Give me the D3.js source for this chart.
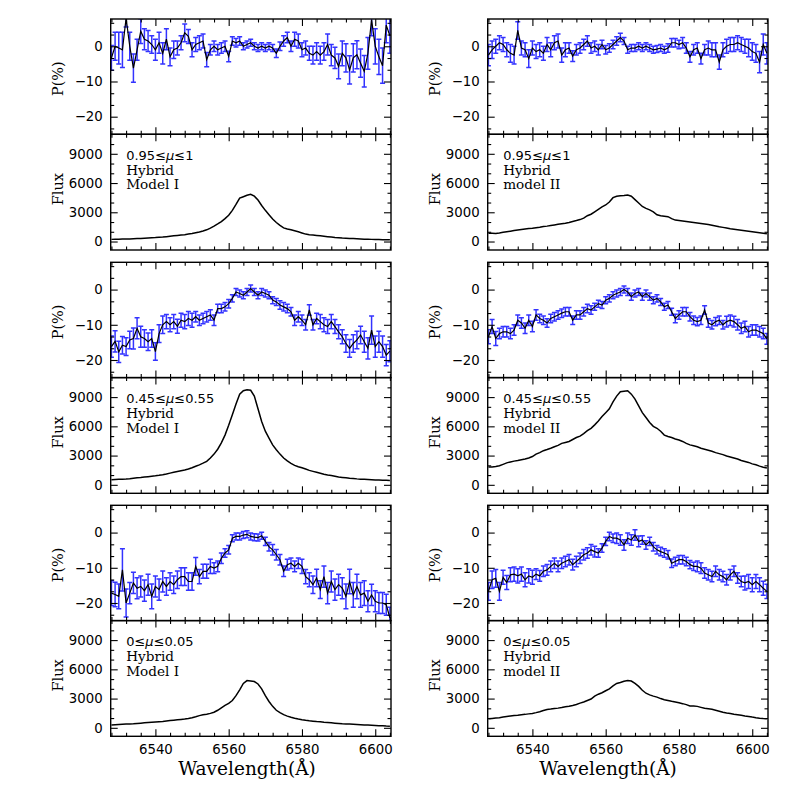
<!DOCTYPE html>
<html>
<head>
<meta charset="utf-8">
<script src="https://cdn.jsdelivr.net/npm/d3@7"></script>
<style>
body { margin: 0; background: #fff; }
svg { display: block; }
</style>
</head>
<body>
<svg id="fig" width="797" height="797"></svg>
<script>
// wavelength grid (A), one sample per Angstrom
var wave = [6528,6529,6530,6531,6532,6533,6534,6535,6536,6537,
  6538,6539,6540,6541,6542,6543,6544,6545,6546,6547,
  6548,6549,6550,6551,6552,6553,6554,6555,6556,6557,
  6558,6559,6560,6561,6562,6563,6564,6565,6566,6567,
  6568,6569,6570,6571,6572,6573,6574,6575,6576,6577,
  6578,6579,6580,6581,6582,6583,6584,6585,6586,6587,
  6588,6589,6590,6591,6592,6593,6594,6595,6596,6597,
  6598,6599,6600,6601,6602,6603,6604];

// polarisation P(%) and its errors
var polHiI = [-3.3,0,-0.5,-1,8,0,-6.2,-1,4.3,2,
  1.5,0.5,-1,1,-2,2,-3,-1,-0.5,1,
  3.8,2.8,-1,0.5,1,1.5,-3.8,-1,0,-1,
  -0.5,0,-2.9,1.5,1,1.5,0,0.5,1,0,
  -0.5,0,-0.5,0,-0.5,-2,0,1.5,2.5,0,
  2,1.5,-1,-0.5,-2,-2.5,-1.5,-2.5,-1.5,0.5,
  -2.5,-3.3,-5.7,-2,-3.3,-6.7,-3.3,-2.4,-4.8,-7.1,
  -2,7.5,0,-3,-5.5,6,3];
var errHiI = [3.5,4,4.5,5,2.5,4,4,3,3.5,3,
  3,2.5,3,3,3,3,2.5,2.5,2,2,
  2.5,2,2,2,2,2,2,1.5,1.5,1.5,
  1.5,1.5,1.5,1.2,1.2,1.2,1,1,1,1,
  1,1,1,1,1,1.2,1.2,1.5,1.5,1.5,
  2,2,2,2,2,2.5,2.5,2.5,2.5,3,
  3,3,3.5,3.5,4,4,4,4,4,4.5,
  4.5,4.5,5,5,5,5,5];
var polHiII = [-2.5,-1,0,1,0.5,-1,-2,-2.5,4.5,-0.5,
  -1,-3.5,-0.5,-1.5,-1,-2,0.5,-1,1,1.5,
  -2.5,-1,-0.5,-2.8,-1,-0.5,0.5,1.5,-0.5,0,
  -1,0.5,-1,-0.5,0.5,1.5,2.5,1.5,-1,-0.5,
  -0.5,0,-0.5,0,-0.5,-1,-0.8,-0.5,-1,-0.5,
  1,1,0.5,1,-0.5,-3,-1,-0.5,-3.5,-1,
  -0.5,-1,-1,-4.5,-1,0,0.5,0.5,1,0.5,
  0,-0.5,-1.5,-2,-4.5,0.5,-2];
var errHiII = [3,2.5,2,2,2,2,2.5,2.5,2.5,2,
  2,2.5,2,2,2,2,2,2,2,2,
  2,2,1.5,1.5,1.5,1.5,1.5,1.5,1.5,1.5,
  1.5,1.2,1.2,1.2,1.2,1.2,1.2,1,1,1,
  1,1,1,1,1,1,1,1,1,1.2,
  1.2,1.2,1.2,1.5,1.5,1.5,1.5,1.5,1.5,1.5,
  2,2,2,2,2,2,2,2,2,2,
  2,2.5,2.5,2.5,3,3,3];
var polMidI = [-16.2,-14.7,-17.7,-15.8,-16.2,-14.3,-13.9,-11,-13.4,-13.9,
  -14.8,-13.9,-17.6,-12.5,-10,-9.1,-10,-9.1,-10.4,-8.7,
  -9.1,-8.2,-8.7,-7.7,-8.7,-8.2,-7.7,-7.2,-8.7,-5.4,
  -5.4,-4.9,-4,-2.5,-0.7,-1.1,-1.6,-0.7,0.3,-0.7,
  -1.6,-0.7,-1.1,-1.6,-3,-3.5,-4.4,-4.9,-5.4,-6.3,
  -8.7,-7.7,-8.7,-10,-5.8,-10,-8.2,-9.1,-10,-10.5,
  -9.1,-10.5,-12,-13.4,-15.3,-16.7,-15.3,-14.3,-12.9,-14.8,
  -16.7,-11.5,-16.2,-14.8,-16.2,-18.6,-17.5];
var errMidI = [3,3,3,2.5,2.5,2.5,3,3,3,2.5,
  2.5,2.5,2.5,2.5,2.5,2,2,2,2,2,
  2,2,2,1.5,1.5,1.5,1.5,1.5,1.5,1.2,
  1.2,1.2,1.2,1,1,1,1,1,1,1,
  1,1,1,1,1,1,1.2,1.2,1.2,1.2,
  1.5,1.5,1.5,1.5,1.5,1.5,1.5,2,2,2,
  2,2,2,2,2.5,2.5,2.5,2.5,2.5,3,
  3,4,3,3,3,3,3];
var polMidII = [-13.4,-10.5,-13.9,-12.5,-12,-12,-12.5,-11.5,-8.7,-9.5,
  -11,-8.7,-10.5,-7.2,-8.2,-8.7,-9.5,-8.2,-7.7,-7.2,
  -6.7,-6.3,-6.3,-8.7,-7.2,-7.2,-6.3,-5.4,-5.8,-4.9,
  -4,-4.4,-3,-2.5,-1.6,-1.1,-0.7,0,-0.7,-2,
  -1.1,-0.7,-2,-1.1,-2,-3,-2.5,-3.5,-4.9,-4.4,
  -6.3,-8.2,-7.2,-6.3,-6.3,-7.7,-8.7,-9.1,-8.7,-5.8,
  -9.5,-10,-9.1,-8.7,-10,-9.1,-8.7,-9.1,-10,-11,
  -10.5,-12,-11.5,-11.5,-12,-12.5,-14];
var errMidII = [2,2,2,1.5,1.5,1.5,1.5,1.5,1.5,1.5,
  1.5,1.5,1.5,1.5,1.2,1.2,1.2,1.2,1.2,1.2,
  1.2,1.2,1.2,1.2,1.2,1.2,1.2,1.2,1.2,1,
  1,1,1,1,1,1,1,1,1,1,
  1,1,1,1,1,1,1,1,1,1,
  1,1.2,1.2,1.2,1.2,1.2,1.2,1.2,1.2,1.2,
  1.2,1.2,1.2,1.2,1.2,1.5,1.5,1.5,1.5,1.5,
  1.5,1.5,1.5,1.5,1.5,1.5,1.5];
var polLoI = [-17.2,-17.6,-18.1,-10.6,-20,-17.2,-14.3,-15.8,-15.3,-16.5,
  -14.8,-18.1,-15.3,-16.2,-13.9,-15.3,-13.9,-14.8,-13.4,-12.5,
  -12.5,-13.9,-13.9,-9.6,-12.5,-11,-11,-9.6,-10.1,-9.6,
  -7.3,-5.8,-4.9,-1.6,-1.1,-1.1,-0.7,-0.5,-1.1,-1.3,
  -1.4,-0.9,-2.5,-4,-4.9,-6.3,-7.7,-11,-9.1,-8.7,
  -9.6,-8.7,-9.6,-12.5,-13.4,-14.8,-12.9,-16.2,-12.5,-17.2,
  -13.9,-16.2,-14.8,-15.8,-18.1,-13.9,-17.7,-15.3,-17.7,-17.2,
  -19.5,-17.7,-19.5,-20,-20,-20.5,-24.2];
var errLoI = [3.5,3.5,3.5,6,4,3,3,3,3,3,
  3,3.5,3,3,3,2.5,2.5,2.5,2.5,2.5,
  2.5,2.5,2.5,2.5,2,2,2,2,1.5,1.5,
  1.5,1.2,1.2,1,1,1,1,1,1,1,
  1,1,1.2,1.2,1.5,1.5,1.5,1.5,1.5,1.5,
  1.5,1.5,2,2,2,2.5,2.5,2.5,3,3,
  3,3,3,3,3.5,3.5,3.5,3.5,3.5,3.5,
  3,3,3,3,3,3,3];
var polLoII = [-16.7,-13.4,-13,-16.7,-12.7,-14.2,-12,-11.8,-12.3,-11.8,
  -13.4,-12.3,-12.7,-11.8,-12.3,-11,-10.6,-9.6,-8.7,-9.6,
  -8.7,-8.2,-7.7,-9.1,-8.2,-7.3,-6.3,-5.8,-4.9,-5.4,
  -5.8,-4.4,-2.5,-1.1,-1.6,-1.6,-2.1,-3.5,-1.6,-2.1,
  -0.7,-2.5,-2.1,-3.5,-2.5,-4,-4.9,-5.4,-5.8,-6.3,
  -8.7,-8.2,-7.7,-7.7,-8.2,-9.1,-9.6,-9.6,-10.1,-11.5,
  -12,-12.5,-11,-12,-12.5,-13.4,-12,-11,-12.9,-13.9,
  -14.3,-13.9,-14.8,-13.9,-14.8,-15.8,-16.7];
var errLoII = [2.5,2.5,2.5,2.5,2,2,2,2,2,2,
  2,2,2,1.5,1.5,1.5,1.5,1.5,1.5,1.5,
  1.5,1.5,1.5,1.5,1.5,1.5,1.5,1.5,1.5,1.5,
  1.2,1.2,1.2,1.2,1.2,1.5,1.5,1.5,1.5,1.5,
  1.5,1.5,1.2,1.2,1.2,1.2,1.2,1.2,1.2,1.2,
  1.2,1.2,1.2,1.2,1.2,1.2,1.2,1.5,1.5,1.5,
  1.5,1.5,1.5,1.5,1.5,1.5,1.5,1.5,1.5,1.5,
  2,2,2,2,2,2,2];

// line flux
var fluxHiI = [220,230,240,250,260,270,285,300,320,340,
  360,380,400,430,460,500,540,580,620,660,
  700,760,820,900,980,1080,1200,1380,1580,1800,
  2050,2350,2700,3200,3800,4450,4600,4750,4850,4650,
  4250,3700,3200,2750,2300,1950,1650,1400,1280,1200,
  1100,1000,880,760,700,660,620,580,540,500,
  460,420,390,360,340,320,300,280,260,245,
  230,220,210,200,190,180,170];
var fluxHiII = [850,850,830,880,940,1000,1060,1120,1180,1230,
  1280,1330,1370,1420,1470,1530,1580,1640,1700,1760,
  1820,1880,1960,2060,2150,2250,2400,2650,2800,3050,
  3300,3550,3750,4050,4500,4650,4700,4720,4760,4650,
  4300,3950,3600,3400,3250,3050,2750,2650,2600,2550,
  2350,2200,2150,2100,2050,2000,1950,1900,1850,1800,
  1750,1680,1600,1520,1450,1380,1300,1250,1200,1150,
  1100,1050,1000,950,900,850,800];
var fluxMidI = [520,540,560,580,600,630,680,730,760,800,
  840,880,920,970,1030,1100,1200,1280,1360,1440,
  1520,1620,1750,1900,2050,2220,2410,2750,3150,3650,
  4300,5100,6100,7200,8300,9300,9650,9750,9700,9100,
  7800,6500,5500,4800,4100,3600,3150,2750,2450,2200,
  2000,1850,1750,1620,1480,1380,1280,1180,1080,1000,
  950,880,800,760,720,680,650,610,580,560,
  540,520,500,490,470,460,450];
var fluxMidII = [1830,1830,1870,1950,2100,2250,2350,2430,2500,2580,
  2650,2750,2900,3150,3300,3500,3620,3750,3900,4050,
  4250,4350,4450,4650,4850,5000,5250,5550,5800,6150,
  6550,7000,7400,7800,8500,9100,9550,9600,9650,9300,
  8800,8100,7400,6900,6400,6000,5800,5500,5100,4950,
  4850,4700,4600,4450,4250,4100,4000,3900,3750,3650,
  3550,3450,3300,3200,3100,2950,2850,2750,2650,2500,
  2400,2300,2150,2050,1920,1800,1720];
var fluxLoI = [300,320,340,360,380,400,420,450,480,510,
  540,570,600,630,660,700,740,780,820,860,
  900,960,1040,1140,1250,1330,1400,1480,1600,1800,
  2050,2300,2500,2800,3300,3900,4550,4850,4800,4750,
  4500,4000,3300,2700,2200,1800,1550,1350,1200,1080,
  980,900,830,770,720,680,640,620,570,540,
  510,480,450,420,400,380,360,340,320,300,
  280,260,240,220,200,180,170];
var fluxLoII = [920,960,1000,1040,1100,1160,1220,1270,1300,1340,
  1380,1430,1480,1560,1650,1770,1880,1920,1970,2020,
  2080,2150,2210,2290,2400,2530,2650,2800,2950,3250,
  3450,3600,3800,4000,4300,4550,4650,4780,4860,4800,
  4550,4250,3850,3550,3380,3250,3150,3000,2880,2800,
  2720,2650,2570,2480,2380,2250,2230,2200,2100,2000,
  1950,1900,1800,1700,1600,1520,1470,1400,1340,1280,
  1220,1170,1100,1040,990,950,920];

var muLabels = ["0.95≤μ≤1", "0.45≤μ≤0.55", "0≤μ≤0.05"];
var modelLabels = ["Model I", "model II"];
var xMajor = [6540, 6560, 6580, 6600];
var pMajor = [0, -10, -20];
var fluxMajor = [0, 3000, 6000, 9000];

var panels = [
  {col: 0, row: 0, pol: polHiI, err: errHiI, flux: fluxHiI},
  {col: 1, row: 0, pol: polHiII, err: errHiII, flux: fluxHiII},
  {col: 0, row: 1, pol: polMidI, err: errMidI, flux: fluxMidI},
  {col: 1, row: 1, pol: polMidII, err: errMidII, flux: fluxMidII},
  {col: 0, row: 2, pol: polLoI, err: errLoI, flux: fluxLoI},
  {col: 1, row: 2, pol: polLoII, err: errLoII, flux: fluxLoII}
];

panels.forEach(function(p, k) {
  ["pol", "err", "flux"].forEach(function(n) {
    if (p[n].length != wave.length) console.error("panel " + k + " " + n + " has " + p[n].length);
  });
});

var colX = [110.7, 487.7], colW = 280.3;
var rowY = [19, 262.3, 505.3], pH = 115.3, fH = 115.7;

var x = d3.scaleLinear().domain([6527.8, 6604.3]).range([0, colW]);
var yP = d3.scaleLinear().domain([-25, 7.75]).range([pH, 0]);
var yF = d3.scaleLinear().domain([-870, 11000]).range([fH, 0]);

var xMinor = d3.range(6528, 6605, 4).filter(function(v) { return xMajor.indexOf(v) < 0; });
var pMinor = d3.range(-70, 25, 10).map(function(v) { return v / 3; })
  .filter(function(v) { return v > -25 && v < 7.75 && pMajor.indexOf(v) < 0; });
var fluxMinor = d3.range(0, 11000, 1000).filter(function(v) { return fluxMajor.indexOf(v) < 0; });

var svg = d3.select("#fig");
var tickFont = "DejaVu Sans", labelFont = "DejaVu Serif";

function frame(sel, y, h, yMaj, yMin, showX) {
  function ax(a, tx, ty) {
    var g = sel.append("g").attr("transform", "translate(" + tx + "," + ty + ")").call(a);
    g.select(".domain").remove();
    g.attr("font-family", tickFont).attr("font-size", 13.3);
    g.selectAll("line").attr("stroke-width", 1.1);
    g.selectAll("text").attr("fill", "#000");
    return g;
  }
  ax(d3.axisBottom(x).tickValues(xMajor).tickSize(-7).tickPadding(8)
    .tickFormat(showX ? d3.format("d") : ""), 0, h);
  ax(d3.axisBottom(x).tickValues(xMinor).tickSize(-3.5).tickFormat(""), 0, h);
  ax(d3.axisTop(x).tickValues(xMajor).tickSize(-7).tickFormat(""), 0, 0);
  ax(d3.axisTop(x).tickValues(xMinor).tickSize(-3.5).tickFormat(""), 0, 0);
  ax(d3.axisLeft(y).tickValues(yMaj).tickSize(-7).tickPadding(8).tickFormat(d3.format("d")), 0, 0);
  ax(d3.axisLeft(y).tickValues(yMin).tickSize(-3.5).tickFormat(""), 0, 0);
  ax(d3.axisRight(y).tickValues(yMaj).tickSize(-7).tickFormat(""), colW, 0);
  ax(d3.axisRight(y).tickValues(yMin).tickSize(-3.5).tickFormat(""), colW, 0);
  sel.selectAll(".tick text").filter(function() { return this.textContent === ""; }).remove();
  sel.append("rect").attr("width", colW).attr("height", h)
    .attr("fill", "none").attr("stroke", "#000").attr("stroke-width", 1.4);
}

var defs = svg.append("defs");
defs.append("clipPath").attr("id", "clipP").append("rect").attr("width", colW).attr("height", pH);
defs.append("clipPath").attr("id", "clipF").append("rect").attr("width", colW).attr("height", fH);

var polLine = d3.line().x(function(d, i) { return x(wave[i]); }).y(function(d) { return yP(d); });
var fluxLine = d3.line().x(function(d, i) { return x(wave[i]); }).y(function(d) { return yF(d); });

panels.forEach(function(p) {
  var left = colX[p.col], top = rowY[p.row];

  // polarisation panel
  var gp = svg.append("g").attr("transform", "translate(" + left + "," + top + ")");
  var plot = gp.append("g").attr("clip-path", "url(#clipP)");
  var bars = plot.append("g").attr("stroke", "#3333ff").attr("stroke-width", 1.5).attr("fill", "none");
  bars.selectAll("path").data(p.pol).enter().append("path")
    .attr("d", function(d, i) {
      var xx = x(wave[i]), y0 = yP(d - p.err[i]), y1 = yP(d + p.err[i]);
      return "M" + xx + "," + y0 + "V" + y1 +
        "M" + (xx - 2.5) + "," + y0 + "H" + (xx + 2.5) +
        "M" + (xx - 2.5) + "," + y1 + "H" + (xx + 2.5);
    });
  plot.append("path").datum(p.pol).attr("d", polLine)
    .attr("fill", "none").attr("stroke", "#000").attr("stroke-width", 1.2);
  frame(gp, yP, pH, pMajor, pMinor, false);
  gp.append("text").attr("transform", "translate(-48," + (pH / 2 + 2) + ") rotate(-90)")
    .attr("text-anchor", "middle").attr("font-family", labelFont).attr("font-size", 14.5)
    .text("P(%)");

  // flux panel
  var gf = svg.append("g").attr("transform", "translate(" + left + "," + (top + pH) + ")");
  gf.append("g").attr("clip-path", "url(#clipF)")
    .append("path").datum(p.flux).attr("d", fluxLine)
    .attr("fill", "none").attr("stroke", "#000").attr("stroke-width", 1.5);
  frame(gf, yF, fH, fluxMajor, fluxMinor, p.row == 2);
  gf.append("text").attr("transform", "translate(-48," + (fH / 2 - 3) + ") rotate(-90)")
    .attr("text-anchor", "middle").attr("font-family", labelFont).attr("font-size", 14.5)
    .text("Flux");

  var mu = muLabels[p.row].split("μ");
  var t1 = gf.append("text").attr("x", 15.5).attr("y", 25.5)
    .attr("font-family", tickFont).attr("font-size", 13);
  t1.append("tspan").text(mu[0]);
  t1.append("tspan").attr("font-style", "italic").text("μ");
  t1.append("tspan").text(mu[1]);
  gf.append("text").attr("x", 15.5).attr("y", 40.5)
    .attr("font-family", labelFont).attr("font-size", 13.6).text("Hybrid");
  gf.append("text").attr("x", 15.5).attr("y", 55)
    .attr("font-family", labelFont).attr("font-size", 13.6).text(modelLabels[p.col]);
});

// x axis titles
[247, 608].forEach(function(cx) {
  svg.append("text").attr("x", cx).attr("y", 775).attr("text-anchor", "middle")
    .attr("font-family", labelFont).attr("font-size", 18.5).text("Wavelength(Å)");
});
</script>
</body>
</html>
